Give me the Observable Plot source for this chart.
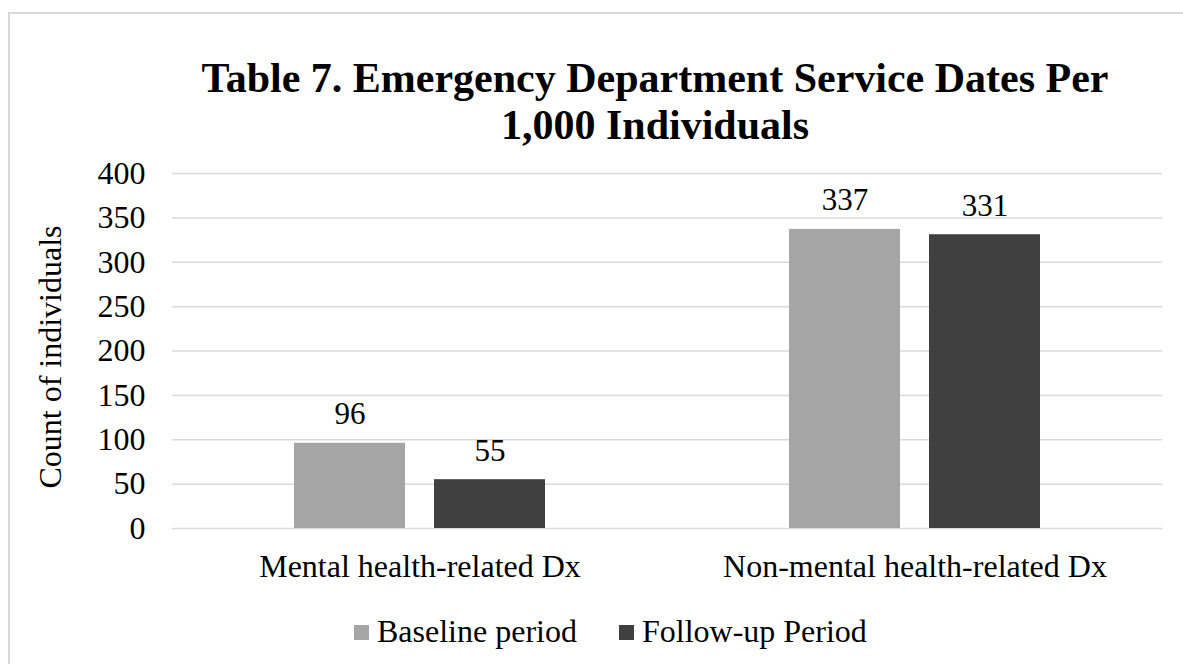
<!DOCTYPE html>
<html>
<head>
<meta charset="utf-8">
<script src="https://cdn.jsdelivr.net/npm/d3@7"></script>
<script src="https://cdn.jsdelivr.net/npm/@observablehq/plot@0.6"></script>
<style>
  html, body { margin: 0; padding: 0; background: #fff; }
  body { width: 1183px; height: 664px; position: relative; overflow: hidden; font-family: "Liberation Serif", "Times New Roman", serif; color: #000; }
  #frame { position: absolute; left: 8px; top: 12px; width: 1200px; height: 700px; border: 2px solid #d9d9d9; box-sizing: border-box; }
  #title { position: absolute; left: 155px; width: 1000px; top: 55px; text-align: center; font-weight: bold; font-size: 42px; line-height: 47px; }
  #ylabel { position: absolute; left: 50px; top: 357px; transform: translate(-50%, -50%) rotate(-90deg); white-space: nowrap; font-size: 32px; line-height: 1; }
  #chart { position: absolute; left: 0; top: 150px; }
  #legend { position: absolute; left: 354px; top: 613px; font-size: 32px; line-height: 37px; white-space: nowrap; display: flex; align-items: center; }
  .sw { display: inline-block; width: 15px; height: 15px; margin-right: 8px; position: relative; top: 1px; }
  .item { display: flex; align-items: center; }
  .item + .item { margin-left: 42px; }
</style>
</head>
<body>
<div id="frame"></div>
<div id="title">Table 7. Emergency Department Service Dates Per<br>1,000 Individuals</div>
<div id="ylabel">Count of individuals</div>
<div id="chart"></div>
<div id="legend"></div>
<script>
const categories = ["Mental health-related Dx", "Non-mental health-related Dx"];
const series = ["Baseline period", "Follow-up Period"];
const baselineValues = [96, 337];
const followUpValues = [55, 331];
const yTicks = [0, 50, 100, 150, 200, 250, 300, 350, 400];
const colors = ["#a5a5a5", "#404040"];

const data = [];
categories.forEach((c, i) => {
  data.push({category: c, series: series[0], value: baselineValues[i]});
  data.push({category: c, series: series[1], value: followUpValues[i]});
});

const font = "Liberation Serif, Times New Roman, serif";

const chart = Plot.plot({
  width: 1183,
  height: 420,
  marginLeft: 172,
  marginRight: 21,
  marginTop: 23,
  marginBottom: 42,
  style: {fontFamily: font, background: "transparent", color: "#000", overflow: "visible"},
  fx: {domain: categories, padding: 0},
  x: {domain: series, paddingInner: 0.207, paddingOuter: 0.871, axis: null},
  y: {domain: [0, 400], axis: null},
  color: {domain: series, range: colors},
  marks: [
    Plot.gridY(yTicks, {stroke: "#d9d9d9", strokeOpacity: 1, strokeWidth: 1.5}),
    Plot.barY(data, {fx: "category", x: "series", y: "value", fill: "series"}),
    Plot.text(data, {fx: "category", x: "series", y: "value", text: d => String(d.value), lineAnchor: "bottom", dy: -19, fontSize: 31, fill: "#000"}),
    Plot.axisY(yTicks, {anchor: "left", tickSize: 0, tickPadding: 27, fontSize: 32, label: null, tickFormat: d => String(d), fill: "#000"}),
    Plot.axisFx({anchor: "bottom", tickSize: 0, tickPadding: 26, fontSize: 32, label: null, fill: "#000"})
  ]
});
document.getElementById("chart").appendChild(chart);

const legend = document.getElementById("legend");
series.forEach((s, i) => {
  const item = document.createElement("span");
  item.className = "item";
  const sw = document.createElement("span");
  sw.className = "sw";
  sw.style.background = colors[i];
  const label = document.createElement("span");
  label.textContent = s;
  item.appendChild(sw);
  item.appendChild(label);
  legend.appendChild(item);
});
</script>
</body>
</html>
